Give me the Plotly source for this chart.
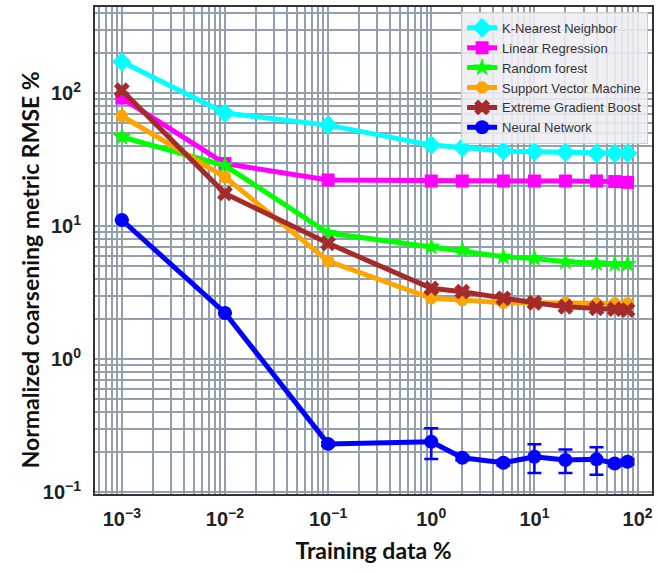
import plotly.graph_objects as go

# ---- data ----
train_pct = [0.001, 0.01, 0.1, 1, 2, 5, 10, 20, 40, 60, 80]
knn = [172, 70.8, 57.4, 40.6, 39.0, 36.6, 36.2, 35.8, 35.2, 35.2, 35.2]
lin_reg = [91.7, 29.5, 22.2, 21.8, 21.8, 21.8, 21.8, 21.8, 21.8, 21.6, 21.3]
rand_forest = [46.7, 28.5, 8.85, 6.98, 6.60, 5.88, 5.71, 5.39, 5.24, 5.17, 5.17]
svm = [67.2, 23.3, 5.46, 2.86, 2.78, 2.65, 2.65, 2.65, 2.62, 2.62, 2.62]
xgb = [105, 17.6, 7.41, 3.40, 3.21, 2.86, 2.65, 2.47, 2.41, 2.37, 2.34]
nn = [11.1, 2.22, 0.23, 0.239, 0.181, 0.166, 0.184, 0.174, 0.176, 0.164, 0.169]
nn_err = [0, 0, 0.008, 0.062, 0.008, 0.008, 0.045, 0.035, 0.041, 0.008, 0.008]

series = [
    ("K-Nearest Neighbor", knn, "#00FFFF", "diamond", 15),
    ("Linear Regression", lin_reg, "#FF00FF", "square", 13),
    ("Random forest", rand_forest, "#00FF00", "star", 14),
    ("Support Vector Machine", svm, "#FFA500", "octagon", 13),
    ("Extreme Gradient Boost", xgb, "#A52A2A", "x", 14),
]

x_tick_vals = [1e-3, 1e-2, 1e-1, 1, 10, 100]
x_tick_text = ["10<sup>\u22123</sup>", "10<sup>\u22122</sup>", "10<sup>\u22121</sup>",
               "10<sup>0</sup>", "10<sup>1</sup>", "10<sup>2</sup>"]
y_tick_vals = [0.1, 1, 10, 100]
y_tick_text = ["10<sup>\u22121</sup>", "10<sup>0</sup>", "10<sup>1</sup>", "10<sup>2</sup>"]

fig = go.Figure()
for name, vals, color, sym, size in series:
    fig.add_trace(go.Scatter(
        x=train_pct, y=vals, name=name, mode="lines+markers",
        line=dict(color=color, width=5),
        marker=dict(symbol=sym, size=size, color=color, line=dict(width=0)),
    ))

fig.add_trace(go.Scatter(
    x=train_pct, y=nn, name="Neural Network", mode="lines+markers",
    line=dict(color="#0000FF", width=5),
    marker=dict(symbol="circle", size=14, color="#0000FF"),
    error_y=dict(type="data", array=nn_err, color="#0000FF", thickness=2.5, width=7),
))

grid_col = "#949fad"
tick_font = dict(family="Liberation Sans", size=20, color="#222", weight="bold")
title_font = dict(family="Lato", size=23, color="#111", weight="bold")

fig.update_xaxes(
    type="log", range=[-3.26, 2.14],
    tickvals=x_tick_vals, ticktext=x_tick_text,
    tickfont=tick_font,
    ticks="", ticklabelstandoff=6,
    showgrid=True, gridcolor=grid_col, gridwidth=1.5,
    minor=dict(dtick="D1", showgrid=True, gridcolor=grid_col, gridwidth=1.5),
    showline=True, mirror=True, linecolor="#333", linewidth=2,
    zeroline=False,
    title=dict(text="Training data %", font=title_font, standoff=14),
)
fig.update_yaxes(
    type="log", range=[-1.015, 2.647],
    tickvals=y_tick_vals, ticktext=y_tick_text,
    tickfont=tick_font,
    ticks="", ticklabelstandoff=8,
    showgrid=True, gridcolor=grid_col, gridwidth=1.5,
    minor=dict(dtick="D1", showgrid=True, gridcolor=grid_col, gridwidth=1.5),
    showline=True, mirror=True, linecolor="#333", linewidth=2,
    zeroline=False,
)

fig.add_annotation(
    text="Normalized coarsening metric RMSE %", textangle=-90,
    xref="paper", yref="paper", x=-0.116, y=0.46,
    xanchor="center", yanchor="middle", showarrow=False, font=title_font,
)

fig.update_layout(
    width=658, height=573,
    margin=dict(l=95, r=4, t=7, b=79),
    paper_bgcolor="white", plot_bgcolor="white",
    legend=dict(x=0.993, y=0.99, xanchor="right", yanchor="top",
                bgcolor="rgba(238,238,242,0.88)", bordercolor="#cccccc", borderwidth=1,
                font=dict(family="Liberation Sans", size=13, color="#333"),
                tracegroupgap=0, itemwidth=30),
    showlegend=True,
)

fig.write_html("out.html")
